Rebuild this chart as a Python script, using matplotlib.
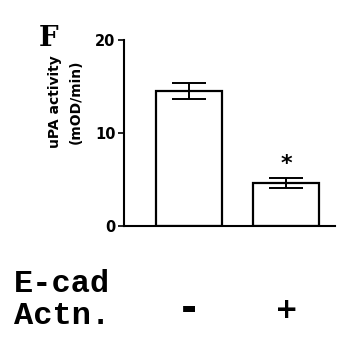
import matplotlib.pyplot as plt
import numpy as np

# uPA activity for E-cad actinin construct, mean and error
groups = ['-', '+']
upa_activity = [14.5, 4.6]
upa_err = [0.85, 0.55]
y_ticks = [0, 10, 20]
sig_marks = ['', '*']

fig = plt.figure(figsize=(3.59, 3.39), dpi=100)
ax = fig.add_axes([0.345, 0.333, 0.588, 0.549])

x = np.arange(len(groups))
ax.bar(x, upa_activity, width=0.68, color='white', edgecolor='black', linewidth=1.6, zorder=2)
ax.errorbar(x, upa_activity, yerr=upa_err, fmt='none', ecolor='black',
            elinewidth=1.4, capsize=12, capthick=1.4, zorder=3)

for xi, val, err, mark in zip(x, upa_activity, upa_err, sig_marks):
    if mark:
        ax.text(xi, val + err + 0.4, mark, ha='center', va='bottom',
                fontsize=16, fontweight='bold')

ax.set_xlim(-0.675, 1.5)
ax.set_ylim(0, 20)
ax.set_yticks(y_ticks)
ax.set_yticklabels([str(t) for t in y_ticks], fontsize=10.5, fontweight='bold')
ax.set_xticks([])
ax.tick_params(axis='y', length=4, width=1.2, pad=2)
for side in ['top', 'right']:
    ax.spines[side].set_visible(False)
for side in ['left', 'bottom']:
    ax.spines[side].set_linewidth(1.5)

fig.text(0.182, 0.70, 'uPA activity\n(mOD/min)', fontsize=10, fontweight='bold',
         rotation=90, ha='center', va='center', linespacing=1.55, multialignment='center')

fig.text(0.135, 0.885, 'F', fontsize=20, fontweight='bold', family='DejaVu Serif',
         ha='center', va='center')

# row labels below the axis
fig.text(0.04, 0.162, 'E-cad', fontsize=23, fontweight='bold', family='Liberation Mono',
         va='center', ha='left')
fig.text(0.04, 0.068, 'Actn.', fontsize=23, fontweight='bold', family='Liberation Mono',
         va='center', ha='left')
sign_sizes = [28, 20]
for xi, g, fs in zip(x, groups, sign_sizes):
    ax.text(xi, -9.0, g, fontsize=fs, fontweight='heavy', ha='center', va='center',
            clip_on=False)

fig.savefig('out.png', dpi=100)
